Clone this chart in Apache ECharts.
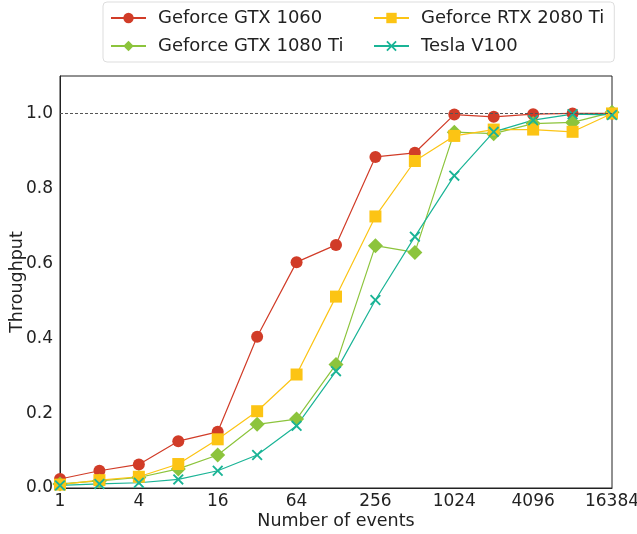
<!DOCTYPE html>
<html>
<head>
<meta charset="utf-8">
<style>
  html, body { margin: 0; padding: 0; background: #fff; }
  #chart { width: 637px; height: 534px; }
</style>
<script src="https://cdn.jsdelivr.net/npm/echarts@6/dist/echarts.min.js"></script>
</head>
<body>
<div id="chart"></div>
<script>
  // number of events (x), powers of two
  const events = [1, 2, 4, 8, 16, 32, 64, 128, 256, 512, 1024, 2048, 4096, 8192, 16384]
  const gtx1060 = [0.024, 0.046, 0.063, 0.125, 0.150, 0.404, 0.603, 0.649, 0.884, 0.895, 0.997, 0.991, 0.998, 1.0, 1.0]
  const gtx1080ti = [0.011, 0.019, 0.028, 0.051, 0.088, 0.170, 0.184, 0.330, 0.647, 0.629, 0.950, 0.946, 0.973, 0.976, 1.003]
  const rtx2080ti = [0.009, 0.021, 0.030, 0.064, 0.130, 0.205, 0.303, 0.511, 0.725, 0.873, 0.940, 0.957, 0.957, 0.951, 1.0]
  const teslaV100 = [0.007, 0.011, 0.014, 0.023, 0.046, 0.088, 0.166, 0.312, 0.502, 0.671, 0.834, 0.951, 0.982, 0.998, 0.996]

  const font = 'DejaVu Sans'
  const crossPath = 'path://M0,1.2L1.2,0L5,3.8L8.8,0L10,1.2L6.2,5L10,8.8L8.8,10L5,6.2L1.2,10L0,8.8L3.8,5Z'

  function pairs (arr) {
    return events.map((x, i) => [x, arr[i]])
  }

  function lineSeries (name, arr, color, symbol, size) {
    return {
      name: name,
      type: 'line',
      data: pairs(arr),
      color: color,
      symbol: symbol,
      symbolSize: size,
      showAllSymbol: true,
      lineStyle: { width: 1.2, color: color },
      itemStyle: { color: color, opacity: 1 }
    }
  }

  const chart = echarts.init(document.getElementById('chart'), null, { renderer: 'canvas' })
  const s1060 = lineSeries('Geforce GTX 1060', gtx1060, '#d13c28', 'circle', 12)
  s1060.markLine = {
    silent: true,
    symbol: ['none', 'none'],
    label: { show: false },
    lineStyle: { color: '#555', type: [3, 2], width: 1 },
    data: [{ yAxis: 1 }]
  }

  chart.setOption({
    animation: false,
    textStyle: { fontFamily: font },
    grid: { left: 60, right: 25, top: 76, bottom: 46, outerBoundsMode: 'none', containLabel: false },
    legend: {
      left: 103,
      top: 2,
      orient: 'horizontal',
      width: 520,
      padding: [7, 10, 7, 7],
      itemGap: 10,
      itemWidth: 35,
      itemHeight: 13,
      borderColor: '#ddd',
      borderWidth: 1,
      borderRadius: 4,
      textStyle: { fontFamily: font, fontSize: 18, color: '#222', lineHeight: 15, width: 205, padding: [0, 0, 0, 7] },
      data: [
        { name: 'Geforce GTX 1060' },
        { name: 'Geforce RTX 2080 Ti', textStyle: { width: 182 } },
        { name: 'Geforce GTX 1080 Ti' },
        { name: 'Tesla V100', textStyle: { width: 182 } }
      ]
    },
    xAxis: {
      type: 'log',
      logBase: 2,
      min: 1,
      max: 16384,
      interval: 2,
      name: 'Number of events',
      nameLocation: 'middle',
      nameGap: 24,
      nameMoveOverlap: false,
      nameTextStyle: { fontFamily: font, fontSize: 17.5, color: '#222' },
      axisLine: { lineStyle: { color: '#222', width: 1 } },
      axisTick: { show: false },
      splitLine: { show: false },
      axisLabel: {
        fontFamily: font,
        fontSize: 17,
        color: '#222',
        margin: 5,
        formatter: function (v) { return String(Math.round(v)) }
      }
    },
    yAxis: {
      type: 'value',
      min: 0,
      max: 1.1,
      interval: 0.2,
      name: 'Throughput',
      nameLocation: 'middle',
      nameGap: 34,
      nameMoveOverlap: false,
      nameTextStyle: { fontFamily: font, fontSize: 17.5, color: '#222' },
      axisLine: { show: true, lineStyle: { color: '#222', width: 1 } },
      axisTick: { show: false },
      splitLine: { show: false },
      axisLabel: {
        fontFamily: font,
        fontSize: 17,
        color: '#222',
        margin: 7,
        showMaxLabel: false,
        formatter: function (v) { return v > 1.05 ? '' : v.toFixed(1) }
      }
    },
    graphic: [{
      type: 'rect',
      silent: true,
      shape: { x: 60, y: 76, width: 552, height: 412 },
      style: { fill: 'none', stroke: '#222', lineWidth: 1 },
      z: 0
    }],
    series: [
      s1060,
      lineSeries('Geforce GTX 1080 Ti', gtx1080ti, '#8cc43c', 'diamond', 15),
      lineSeries('Geforce RTX 2080 Ti', rtx2080ti, '#fcc414', 'rect', 12),
      lineSeries('Tesla V100', teslaV100, '#1ab496', crossPath, 11)
    ]
  })
</script>
</body>
</html>
